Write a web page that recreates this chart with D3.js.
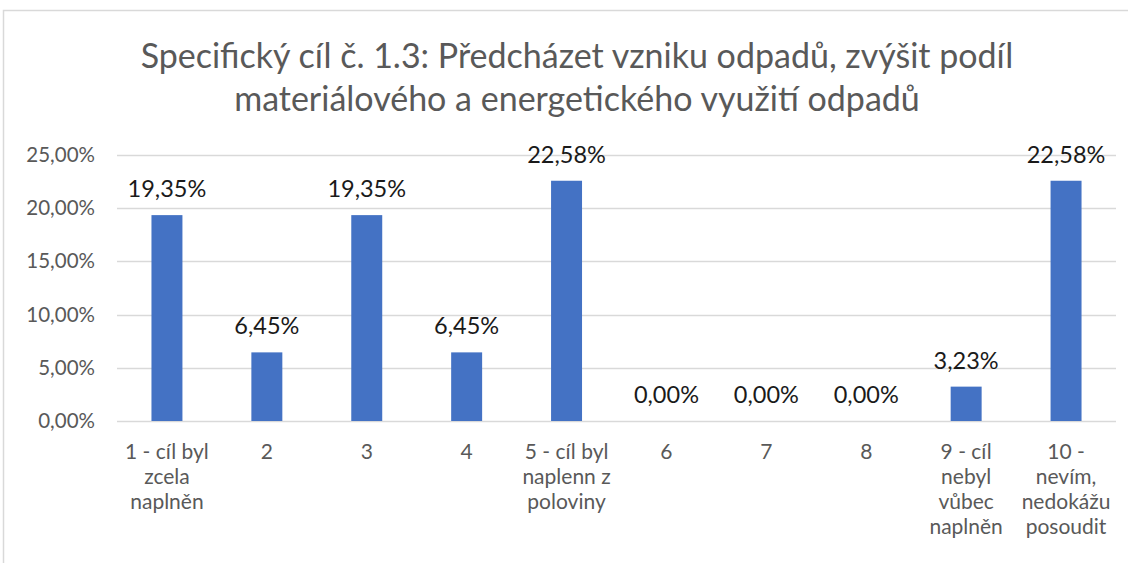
<!DOCTYPE html>
<html>
<head>
<meta charset="utf-8">
<title>Specifický cíl č. 1.3</title>
<script src="https://cdn.jsdelivr.net/npm/d3@7"></script>
<style>
  body { margin: 0; background: #fff; }
  text { font-family: Lato, "Noto Sans", sans-serif; }
</style>
</head>
<body>
<script>
var titleLines = ["Specifický cíl č. 1.3: Předcházet vzniku odpadů, zvýšit podíl",
                  "materiálového a energetického využití odpadů"];
var categories = ["1 - cíl byl\nzcela\nnaplněn", "2", "3", "4", "5 - cíl byl\nnaplenn z\npoloviny",
                  "6", "7", "8", "9 - cíl\nnebyl\nvůbec\nnaplněn", "10 -\nnevím,\nnedokážu\nposoudit"];
var values = [19.35, 6.45, 19.35, 6.45, 22.58, 0, 0, 0, 3.23, 22.58];
var yTicks = [0, 5, 10, 15, 20, 25];

var width = 1128, height = 563;
var margin = {left: 117, right: 12, top: 155, bottom: 142};

var svg = d3.select("body").append("svg")
    .attr("width", width)
    .attr("height", height);

// chart frame (cropped at right and bottom)
svg.append("rect")
    .attr("x", 3.5).attr("y", 10.5)
    .attr("width", width + 20).attr("height", height + 20)
    .attr("fill", "none").attr("stroke", "#d9d9d9").attr("stroke-width", 1.5);

var fmt = function(v) { return v.toFixed(2).replace(".", ",") + "%"; };

var x = d3.scaleBand()
    .domain(categories)
    .range([margin.left, width - margin.right])
    .paddingInner(0.69)
    .paddingOuter(0.345);

var y = d3.scaleLinear()
    .domain([0, 25])
    .range([height - margin.bottom, margin.top]);

// gridlines
svg.append("g")
    .selectAll("line")
    .data(yTicks)
    .join("line")
    .attr("x1", margin.left).attr("x2", width - margin.right)
    .attr("y1", function(d) { return Math.round(y(d)) + 0.5; })
    .attr("y2", function(d) { return Math.round(y(d)) + 0.5; })
    .attr("stroke", "#d9d9d9").attr("stroke-width", 1.5);

// y axis labels
var yAxis = d3.axisLeft(y).tickValues(yTicks).tickFormat(fmt).tickSize(0).tickPadding(0);
var ya = svg.append("g").attr("transform", "translate(" + (margin.left - 22) + ",0)").call(yAxis);
ya.select(".domain").remove();
ya.selectAll("text")
    .attr("fill", "#595959")
    .style("font-size", "20.5px")
    .style("font-family", "Lato, sans-serif");

// bars
svg.append("g")
    .selectAll("rect")
    .data(values)
    .join("rect")
    .attr("x", function(d, i) { return x(categories[i]); })
    .attr("width", x.bandwidth())
    .attr("y", function(d) { return y(d); })
    .attr("height", function(d) { return y(0) - y(d); })
    .attr("fill", "#4472c4");

// data labels
svg.append("g")
    .selectAll("text")
    .data(values)
    .join("text")
    .attr("x", function(d, i) { return x(categories[i]) + x.bandwidth() / 2; })
    .attr("y", function(d) { return y(d) - 18; })
    .attr("text-anchor", "middle")
    .attr("fill", "#1a1a1a")
    .style("font-size", "23.5px")
    .text(fmt);

// x axis labels
var xl = svg.append("g")
    .selectAll("text")
    .data(categories)
    .join("text")
    .attr("x", function(d) { return x(d) + x.bandwidth() / 2; })
    .attr("y", height - margin.bottom + 38)
    .attr("text-anchor", "middle")
    .attr("fill", "#595959")
    .style("font-size", "21px");
xl.selectAll("tspan")
    .data(function(d) { return d.split("\n"); })
    .join("tspan")
    .attr("x", function() { return d3.select(this.parentNode).attr("x"); })
    .attr("dy", function(d, i) { return i === 0 ? 0 : 25; })
    .text(function(d) { return d; });

// title
svg.append("text")
    .attr("x", 577)
    .attr("text-anchor", "middle")
    .attr("fill", "#595959")
    .style("font-size", "34px")
    .selectAll("tspan")
    .data(titleLines)
    .join("tspan")
    .attr("x", 577)
    .attr("y", function(d, i) { return 68 + i * 43; })
    .text(function(d) { return d; });
</script>
</body>
</html>
